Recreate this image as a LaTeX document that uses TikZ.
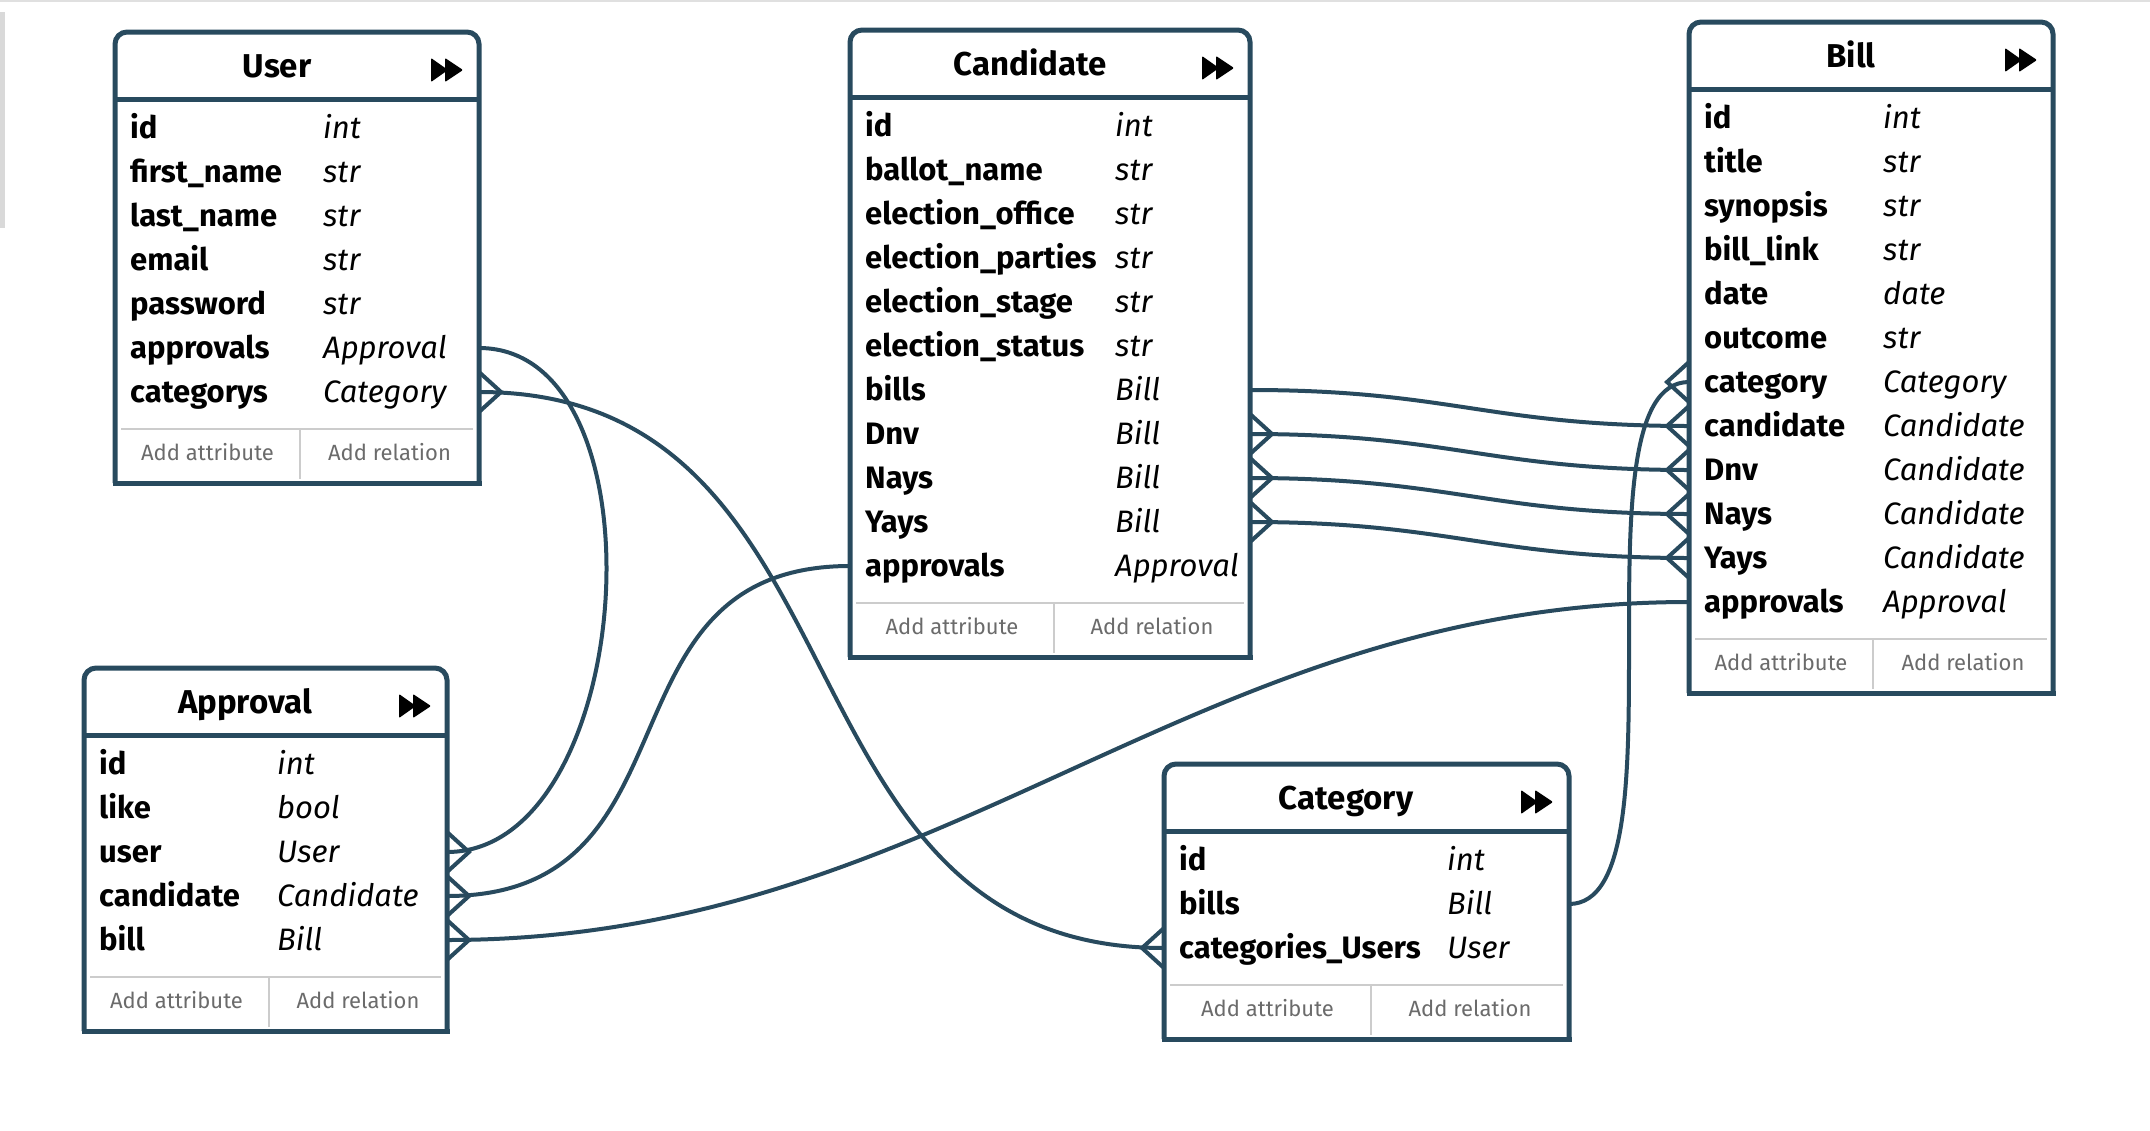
\documentclass[tikz,border=0pt]{standalone}
\usepackage{fontspec}
\setmainfont{Fira Sans}
\usepackage{tikz}
\definecolor{Navy}{HTML}{284A5E}
\definecolor{Rule}{HTML}{CCCCCC}
\definecolor{Muted}{HTML}{6B6B6B}

\begin{document}
\begin{tikzpicture}[
      x=1pt, y=-1pt,
      box/.style={inner sep=0, outer sep=0, fill=white},
      frame/.style={draw=Navy, line width=5},
      sep/.style={draw=Rule, line width=2},
      link/.style={draw=Navy, line width=4},
      title/.style={anchor=base, font=\fontsize{33}{36}\selectfont\bfseries},
      attr/.style={anchor=west, inner sep=0, text height=26, text depth=6, font=\fontsize{31}{34}\selectfont\bfseries},
      kind/.style={attr, font=\fontsize{31}{34}\selectfont\itshape},
      foot/.style={anchor=base, text=Muted, font=\fontsize{22}{25}\selectfont},
      ffwd/.pic={\fill[rounded corners=1] (-16,-12) -- (1,0) -- (-16,12) -- cycle;
                 \fill[rounded corners=1] (-2,-12) -- (16,0) -- (-2,12) -- cycle;},
      crowR/.pic={\draw[link] (0,-20) -- (22,0) -- (0,20);},
      crowL/.pic={\draw[link] (0,-20) -- (-22,0) -- (0,20);}
    ]
    \useasboundingbox (0,0) rectangle (2150,1130);
    \fill[white] (0,0) rectangle (2150,1130);
    \fill[black!12] (0,0) rectangle (2150,2);
    \fill[black!15] (0,12) rectangle (5,228);

    % User
    \node[box, minimum width=364, minimum height=451] (user) at (297,257.5) {};
    \draw[frame, rounded corners=12] (user.south west) |- (user.north) -| (user.south east);
    \draw[frame, line cap=rect] (user.south west) -- (user.south east);
    \draw[frame] (115,99) -- (479,99);
    \node[title] (user-title) at (277,77) {User};
    \pic at (447,70) {ffwd};
    \foreach \k/\n/\t [count=\i from 0] in {id/id/int, first/first\_name/str, last/last\_name/str,
        email/email/str, password/password/str, approvals/approvals/Approval, categorys/categorys/Category} {
      \node[attr] (user-\k) at (130,128+44*\i) {\n};
      \node[kind] (user-\k-t) at (323,128+44*\i) {\t};
    }
    \draw[sep] (121,429) -- (473,429);
    \draw[sep] (300,429) -- (300,479);
    \node[foot] (user-addattr) at (207.5,460) {Add attribute};
    \node[foot] (user-addrel) at (389.5,460) {Add relation};

    % Candidate
    \node[box, minimum width=400, minimum height=627] (candidate) at (1050,343.5) {};
    \draw[frame, rounded corners=12] (candidate.south west) |- (candidate.north) -| (candidate.south east);
    \draw[frame, line cap=rect] (candidate.south west) -- (candidate.south east);
    \draw[frame] (850,97) -- (1250,97);
    \node[title] (candidate-title) at (1030,75) {Candidate};
    \pic at (1218,68) {ffwd};
    \foreach \k/\n/\t [count=\i from 0] in {id/id/int, ballot/ballot\_name/str, office/election\_office/str,
        parties/election\_parties/str, stage/election\_stage/str, status/election\_status/str,
        bills/bills/Bill, Dnv/Dnv/Bill, Nays/Nays/Bill, Yays/Yays/Bill, approvals/approvals/Approval} {
      \node[attr] (candidate-\k) at (865,126+44*\i) {\n};
      \node[kind] (candidate-\k-t) at (1115,126+44*\i) {\t};
    }
    \draw[sep] (856,603) -- (1244,603);
    \draw[sep] (1054,603) -- (1054,653);
    \node[foot] (candidate-addattr) at (952,634) {Add attribute};
    \node[foot] (candidate-addrel) at (1152,634) {Add relation};

    % Bill
    \node[box, minimum width=364, minimum height=671] (bill) at (1871,357.5) {};
    \draw[frame, rounded corners=12] (bill.south west) |- (bill.north) -| (bill.south east);
    \draw[frame, line cap=rect] (bill.south west) -- (bill.south east);
    \draw[frame] (1689,89) -- (2053,89);
    \node[title] (bill-title) at (1851,67) {Bill};
    \pic at (2021,60) {ffwd};
    \foreach \k/\n/\t [count=\i from 0] in {id/id/int, title/title/str, synopsis/synopsis/str,
        link/bill\_link/str, date/date/date, outcome/outcome/str, category/category/Category,
        candidate/candidate/Candidate, Dnv/Dnv/Candidate, Nays/Nays/Candidate, Yays/Yays/Candidate,
        approvals/approvals/Approval} {
      \node[attr] (bill-\k) at (1704,118+44*\i) {\n};
      \node[kind] (bill-\k-t) at (1883,118+44*\i) {\t};
    }
    \draw[sep] (1695,639) -- (2047,639);
    \draw[sep] (1873,639) -- (1873,689);
    \node[foot] (bill-addattr) at (1781,670) {Add attribute};
    \node[foot] (bill-addrel) at (1963,670) {Add relation};

    % Approval
    \node[box, minimum width=363, minimum height=363] (approval) at (265.5,849.5) {};
    \draw[frame, rounded corners=12] (approval.south west) |- (approval.north) -| (approval.south east);
    \draw[frame, line cap=rect] (approval.south west) -- (approval.south east);
    \draw[frame] (84,735) -- (447,735);
    \node[title] (approval-title) at (245,713) {Approval};
    \pic at (415,706) {ffwd};
    \foreach \k/\n/\t [count=\i from 0] in {id/id/int, like/like/bool, user/user/User,
        candidate/candidate/Candidate, bill/bill/Bill} {
      \node[attr] (approval-\k) at (99,764+44*\i) {\n};
      \node[kind] (approval-\k-t) at (277,764+44*\i) {\t};
    }
    \draw[sep] (90,977) -- (441,977);
    \draw[sep] (269,977) -- (269,1027);
    \node[foot] (approval-addattr) at (176.5,1008) {Add attribute};
    \node[foot] (approval-addrel) at (358,1008) {Add relation};

    % Category
    \node[box, minimum width=405, minimum height=275] (category) at (1366.5,901.5) {};
    \draw[frame, rounded corners=12] (category.south west) |- (category.north) -| (category.south east);
    \draw[frame, line cap=rect] (category.south west) -- (category.south east);
    \draw[frame] (1164,831) -- (1569,831);
    \node[title] (category-title) at (1346,809) {Category};
    \pic at (1537,802) {ffwd};
    \foreach \k/\n/\t [count=\i from 0] in {id/id/int, bills/bills/Bill, users/categories\_Users/User} {
      \node[attr] (category-\k) at (1179,860+44*\i) {\n};
      \node[kind] (category-\k-t) at (1447,860+44*\i) {\t};
    }
    \draw[sep] (1170,985) -- (1563,985);
    \draw[sep] (1371,985) -- (1371,1035);
    \node[foot] (category-addattr) at (1267.5,1016) {Add attribute};
    \node[foot] (category-addrel) at (1470,1016) {Add relation};

    % relations
    \draw[link] (user.east |- user-approvals) .. controls +(190,0) and +(190,0) .. (approval.east |- approval-user);
    \pic at (approval.east |- approval-user) {crowR};

    \draw[link] (user.east |- user-categorys) .. controls +(400,0) and +(-400,0) .. (category.west |- category-users);
    \pic at (user.east |- user-categorys) {crowR};
    \pic at (category.west |- category-users) {crowL};

    \draw[link] (candidate.west |- candidate-approvals) .. controls +(-260,0) and +(260,0) .. (approval.east |- approval-candidate);
    \pic at (approval.east |- approval-candidate) {crowR};

    \draw[link] (approval.east |- approval-bill) .. controls +(500,0) and +(-500,0) .. (bill.west |- bill-approvals);
    \pic at (approval.east |- approval-bill) {crowR};

    \draw[link] (candidate.east |- candidate-bills) .. controls +(200,0) and +(-200,0) .. (bill.west |- bill-candidate);
    \pic at (bill.west |- bill-candidate) {crowL};

    \foreach \k in {Dnv, Nays, Yays} {
      \draw[link] (candidate.east |- candidate-\k) .. controls +(200,0) and +(-200,0) .. (bill.west |- bill-\k);
      \pic at (candidate.east |- candidate-\k) {crowR};
      \pic at (bill.west |- bill-\k) {crowL};
    }

    \draw[link] (category.east |- category-bills) .. controls +(120,0) and +(-120,0) .. (bill.west |- bill-category);
    \pic at (bill.west |- bill-category) {crowL};
  \end{tikzpicture}
\end{document}
